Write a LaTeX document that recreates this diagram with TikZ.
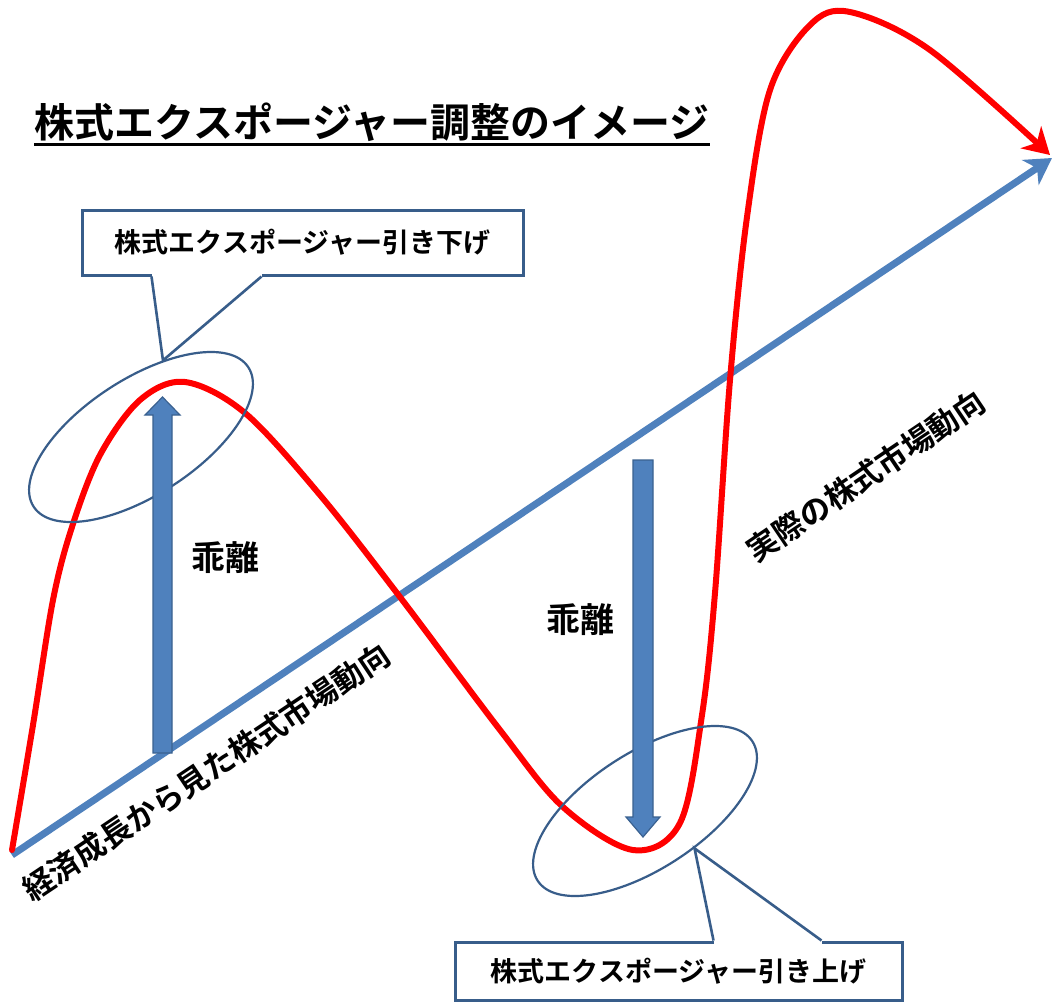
\documentclass[tikz,border=0pt]{standalone}
\usepackage{fontspec}
\newfontfamily\jp{Noto Sans CJK JP}[BoldFont={Noto Sans CJK JP Bold}]
\usepackage{tikz}
\usetikzlibrary{positioning, arrows.meta, shapes.geometric, calc}
\definecolor{mktblue}{HTML}{4F81BD}
\definecolor{mktred}{HTML}{FF0000}
\definecolor{rimblue}{HTML}{385D8A}
\definecolor{arrowedge}{HTML}{3A6190}

\tikzset{
  realline/.style={mktred, line width=6pt, line cap=round, -{Stealth[length=26pt,width=30pt,inset=8pt]}},
  trendline/.style={mktblue, line width=7pt, -{Stealth[length=26pt,width=30pt,inset=8pt]}},
  gaparrow/.style={fill=mktblue, draw=arrowedge, line width=1.2pt},
  ring/.style={ellipse, draw=rimblue, line width=2.2pt, minimum width=256pt, minimum height=116pt, rotate=33, inner sep=0pt},
  rimline/.style={draw=rimblue, line width=2.6pt},
  calloutbox/.style={draw=rimblue, line width=3pt, fill=white, minimum width=441pt, minimum height=65pt, font=\jp\bfseries\fontsize{27}{29}\selectfont},
  titletext/.style={inner sep=0pt, font=\jp\bfseries\fontsize{40}{42}\selectfont},
  gaplabel/.style={font=\jp\bfseries\fontsize{34}{36}\selectfont},
  trendlabel/.style={inner sep=0pt, text=black, font=\jp\bfseries\fontsize{31}{33}\selectfont}
}

\begin{document}
\begin{tikzpicture}[x=1pt, y=-1pt]
\useasboundingbox[fill=white] (0,0) rectangle (1053,1002);
% title
\node[titletext] (title) at (372,122) {株式エクスポージャー調整のイメージ};
\draw[line width=3pt] ([yshift=-3pt]title.south west) -- ([yshift=-3pt]title.south east);
% market trend from growth
\coordinate (origin) at (12,855);
\coordinate (trendtip) at (1052,158);
\draw[trendline] (origin) -- (trendtip);
\node[trendlabel, rotate=33.8] (growthlbl) at (206,772) {経済成長から見た株式市場動向};
% actual market
\draw[realline] plot[smooth, tension=0.55] coordinates {
  (12,850) (33,725) (53,600) (72,527) (100,455) (140,400) (185,382)
  (245,413) (320,495) (400,597) (500,730) (563,807) (633,850) (680,823)
  (702,715) (715,593) (730,380) (747,217) (770,90) (810,25) (850,12)
  (930,50) (1050,155)};
% rings
\node[ring] (ringtop) at (141,437) {};
\node[ring] (ringbot) at (645,811) {};
% gap arrows
\filldraw[gaparrow] (153,753) -- (153,415) -- (145,415) -- (162.5,397) -- (180,415) -- (172,415) -- (172,753) -- cycle;
\filldraw[gaparrow] (633,460) -- (633,817) -- (626,817) -- (643,837) -- (660,817) -- (653,817) -- (653,460) -- cycle;
% callouts
\node[calloutbox] (boxtop) at (302.5,242.5) {株式エクスポージャー引き下げ};
\coordinate (ptrtop) at (ringtop.41);
\fill[white] ([xshift=71pt, yshift=-0.5pt]boxtop.south west) rectangle ([xshift=181pt, yshift=4pt]boxtop.south west);
\draw[rimline] ([xshift=71pt]boxtop.south west) -- (ptrtop) -- ([xshift=181pt]boxtop.south west);
\node[calloutbox, minimum width=447pt, minimum height=58pt] (boxbot) at (678.5,971) {株式エクスポージャー引き上げ};
\coordinate (ptrbot) at (ringbot.-70);
\fill[white] ([xshift=260pt, yshift=0.5pt]boxbot.north west) rectangle ([xshift=368pt, yshift=-4pt]boxbot.north west);
\draw[rimline] ([xshift=260pt]boxbot.north west) -- (ptrbot) -- ([xshift=368pt]boxbot.north west);
% labels
\node[gaplabel] (gaptop) at (225,558) {乖離};
\node[gaplabel] (gapbot) at (580,620) {乖離};
\node[trendlabel, rotate=34] (reallbl) at (866,476) {実際の株式市場動向};
\end{tikzpicture}
\end{document}
